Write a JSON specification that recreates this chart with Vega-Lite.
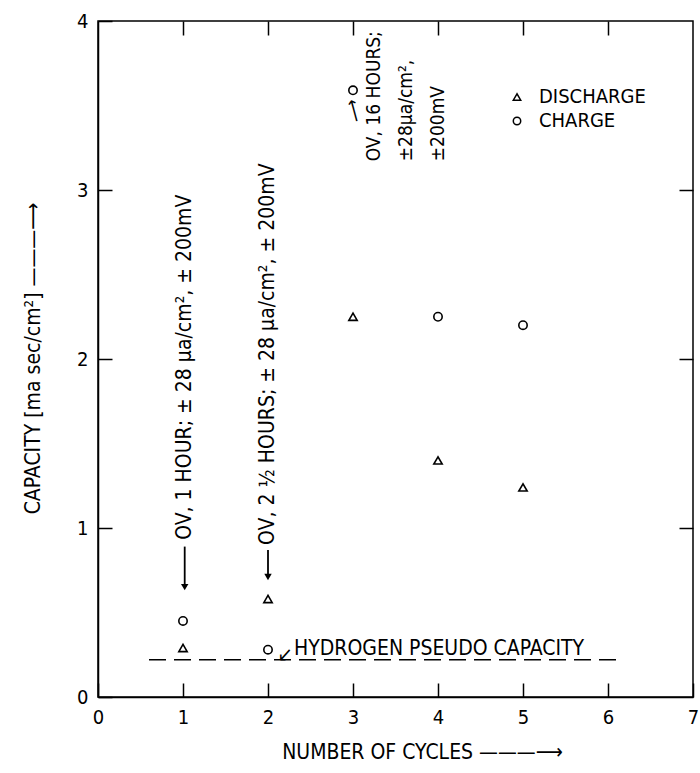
{
  "$schema": "https://vega.github.io/schema/vega-lite/v6.json",
  "width": 595,
  "height": 676,
  "autosize": {"type": "none"},
  "padding": {"left": 98, "top": 21, "right": 7, "bottom": 76},
  "background": "white",
  "config": {
    "view": {"stroke": "black", "strokeWidth": 1.5},
    "font": "Liberation Sans Narrow, DejaVu Sans Condensed, sans-serif",
    "axis": {
      "grid": false,
      "domainColor": "black",
      "domainWidth": 1.5,
      "tickColor": "black",
      "tickWidth": 1.5,
      "tickSize": -14,
      "labelPadding": 24,
      "labelColor": "black",
      "labelFontSize": 20,
      "labelFlush": false,
      "labelFont": "Liberation Sans Narrow, DejaVu Sans Condensed, sans-serif",
      "titleFont": "Liberation Sans Narrow, DejaVu Sans Condensed, sans-serif",
      "titleFontSize": 21,
      "titleFontWeight": "normal",
      "titleColor": "black"
    },
    "legend": {
      "labelFont": "Liberation Sans Narrow, DejaVu Sans Condensed, sans-serif"
    }
  },
  "layer": [
    {
      "data": {
        "values": [
          {"cycles": 1, "capacity": 0.29, "type": "DISCHARGE"},
          {"cycles": 2, "capacity": 0.58, "type": "DISCHARGE"},
          {"cycles": 3, "capacity": 2.25, "type": "DISCHARGE"},
          {"cycles": 4, "capacity": 1.40, "type": "DISCHARGE"},
          {"cycles": 5, "capacity": 1.24, "type": "DISCHARGE"},
          {"cycles": 1, "capacity": 0.45, "type": "CHARGE"},
          {"cycles": 2, "capacity": 0.28, "type": "CHARGE"},
          {"cycles": 3, "capacity": 3.59, "type": "CHARGE"},
          {"cycles": 4, "capacity": 2.25, "type": "CHARGE"},
          {"cycles": 5, "capacity": 2.20, "type": "CHARGE"}
        ]
      },
      "mark": {"type": "point", "filled": false, "color": "black", "strokeWidth": 1.6, "size": 70, "opacity": 1},
      "encoding": {
        "x": {
          "field": "cycles", "type": "quantitative",
          "scale": {"domain": [0, 7], "nice": false},
          "axis": {
            "orient": "bottom",
            "values": [0, 1, 2, 3, 4, 5, 6, 7],
            "title": "NUMBER OF CYCLES ———⟶",
            "titleX": 324, "titleY": 55,
            "titleAlign": "center", "titleBaseline": "middle"
          }
        },
        "y": {
          "field": "capacity", "type": "quantitative",
          "scale": {"domain": [0, 4], "nice": false},
          "axis": {
            "orient": "left",
            "values": [0, 1, 2, 3, 4],
            "title": "CAPACITY  [ma sec/cm²] ———⟶",
            "titleX": -65, "titleY": 337, "titleAngle": 270,
            "titleAlign": "center", "titleBaseline": "middle"
          }
        },
        "shape": {
          "field": "type", "type": "nominal",
          "scale": {"domain": ["DISCHARGE", "CHARGE"], "range": ["triangle-up", "circle"]},
          "legend": {
            "orient": "none", "legendX": 409, "legendY": 66,
            "title": null, "padding": 0,
            "labelFontSize": 20, "labelColor": "black",
            "labelOffset": 12, "rowPadding": 4,
            "symbolStrokeColor": "black", "symbolFillColor": "transparent",
            "symbolStrokeWidth": 1.5, "symbolSize": 55
          }
        }
      }
    },
    {
      "data": {
        "values": [
          {"cycles": 0.6, "capacity": 0.22},
          {"cycles": 6.18, "capacity": 0.22}
        ]
      },
      "mark": {"type": "line", "color": "black", "strokeWidth": 1.5, "strokeDash": [17, 8]},
      "encoding": {
        "x": {
          "field": "cycles", "type": "quantitative",
          "scale": {"domain": [0, 7], "nice": false},
          "axis": {"orient": "top", "values": [1, 2, 3, 4, 5, 6], "labels": false, "title": null, "domain": false}
        },
        "y": {
          "field": "capacity", "type": "quantitative",
          "scale": {"domain": [0, 4], "nice": false},
          "axis": {"orient": "right", "values": [1, 2, 3], "labels": false, "title": null, "domain": false}
        }
      }
    },
    {
      "data": {
        "values": [
          {"cycles": 1.02, "capacity": 0.93, "label": "OV, 1 HOUR; ± 28 μa/cm², ± 200mV"},
          {"cycles": 2.0, "capacity": 0.9, "label": "OV, 2 ½ HOURS; ± 28 μa/cm², ± 200mV"}
        ]
      },
      "mark": {"type": "text", "angle": 270, "align": "left", "baseline": "middle", "fontSize": 21, "color": "black"},
      "encoding": {
        "x": {"field": "cycles", "type": "quantitative", "axis": null},
        "y": {"field": "capacity", "type": "quantitative", "axis": null},
        "text": {"field": "label"}
      }
    },
    {
      "data": {
        "values": [
          {"cycles": 3.25, "capacity": 3.17, "label": "OV, 16 HOURS;"},
          {"cycles": 3.62, "capacity": 3.17, "label": "±28μa/cm²,"},
          {"cycles": 4.0, "capacity": 3.17, "label": "±200mV"}
        ]
      },
      "mark": {"type": "text", "angle": 270, "align": "left", "baseline": "middle", "fontSize": 19, "color": "black"},
      "encoding": {
        "x": {"field": "cycles", "type": "quantitative", "axis": null},
        "y": {"field": "capacity", "type": "quantitative", "axis": null},
        "text": {"field": "label"}
      }
    },
    {
      "data": {
        "values": [
          {"cycles": 1.02, "tip": 0.65, "tail": 0.89},
          {"cycles": 2.0, "tip": 0.71, "tail": 0.87}
        ]
      },
      "mark": {"type": "rule", "color": "black", "strokeWidth": 1.8},
      "encoding": {
        "x": {"field": "cycles", "type": "quantitative", "axis": null},
        "y": {"field": "tip", "type": "quantitative", "axis": null},
        "y2": {"field": "tail"}
      }
    },
    {
      "data": {
        "values": [
          {"cycles": 1.02, "tip": 0.65},
          {"cycles": 2.0, "tip": 0.71}
        ]
      },
      "mark": {"type": "point", "shape": "triangle-down", "filled": true, "color": "black", "size": 55, "opacity": 1},
      "encoding": {
        "x": {"field": "cycles", "type": "quantitative", "axis": null},
        "y": {"field": "tip", "type": "quantitative", "axis": null}
      }
    },
    {
      "data": {
        "values": [
          {"cycles": 2.306, "capacity": 0.25, "label": "HYDROGEN PSEUDO CAPACITY"}
        ]
      },
      "mark": {"type": "text", "align": "left", "baseline": "alphabetic", "fontSize": 21, "color": "black"},
      "encoding": {
        "x": {"field": "cycles", "type": "quantitative", "axis": null},
        "y": {"field": "capacity", "type": "quantitative", "axis": null},
        "text": {"field": "label"}
      }
    },
    {
      "data": {
        "values": [
          {"cycles": 2.2, "capacity": 0.25, "label": "↙"}
        ]
      },
      "mark": {"type": "text", "align": "center", "baseline": "middle", "fontSize": 20, "color": "black"},
      "encoding": {
        "x": {"field": "cycles", "type": "quantitative", "axis": null},
        "y": {"field": "capacity", "type": "quantitative", "axis": null},
        "text": {"field": "label"}
      }
    },
    {
      "data": {
        "values": [
          {"cycles": 3.02, "capacity": 3.47, "label": "⟶"}
        ]
      },
      "mark": {"type": "text", "angle": 255, "align": "center", "baseline": "middle", "fontSize": 18, "color": "black"},
      "encoding": {
        "x": {"field": "cycles", "type": "quantitative", "axis": null},
        "y": {"field": "capacity", "type": "quantitative", "axis": null},
        "text": {"field": "label"}
      }
    }
  ]
}
